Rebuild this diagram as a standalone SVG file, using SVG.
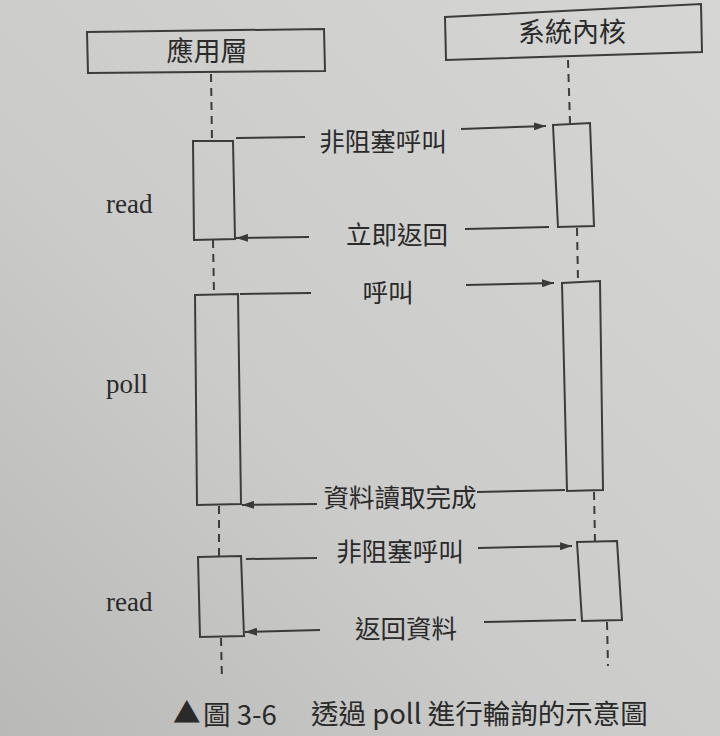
<svg xmlns="http://www.w3.org/2000/svg" width="720" height="736" viewBox="0 0 720 736">
<defs>
<linearGradient id="bg" x1="1" y1="0" x2="0" y2="1">
<stop offset="0" stop-color="#d6d6d4"/>
<stop offset="0.6" stop-color="#cbcbc9"/>
<stop offset="1" stop-color="#b9b9b7"/>
</linearGradient>
<marker id="ah" viewBox="0 0 12 8" refX="12" refY="4" markerWidth="12" markerHeight="8" markerUnits="userSpaceOnUse" orient="auto">
<path d="M0,0 L12,4 L0,8 Z" fill="#3a3a3a"/>
</marker>
<style>
.box{fill:none;stroke:#3c3c3c;stroke-width:2}
.life{stroke:#3c3c3c;stroke-width:2;stroke-dasharray:8,6;fill:none}
.ln{stroke:#3a3a3a;stroke-width:2;fill:none}
.arr{stroke:#3a3a3a;stroke-width:2;fill:none;marker-end:url(#ah)}
.lbl{font-family:"Liberation Serif","Noto Sans CJK TC",serif;font-size:27px;fill:#2a2a2a}
.hdr{font-family:"Liberation Serif","Noto Sans CJK TC",serif;font-size:27px;fill:#2a2a2a;text-anchor:middle}
.msg{font-family:"Noto Sans CJK TC",sans-serif;font-size:25.5px;fill:#2a2a2a;text-anchor:middle}
.cap{font-family:"Noto Sans CJK TC","Liberation Sans",sans-serif;font-size:27.5px;fill:#2a2a2a}
</style>
</defs>
<rect width="720" height="736" fill="url(#bg)"/>

<g id="app">
<polygon class="box" points="87,32 324,29 325,71 88,73"/>
<text class="hdr" x="207" y="61">應用層</text>
</g>
<g id="kernel">
<polygon class="box" points="445,17 701,4 702,52 446,60"/>
<text class="hdr" x="572" y="42">系統內核</text>
</g>

<g id="lifelines">
<line class="life" x1="211" y1="74" x2="212" y2="140"/>
<line class="life" x1="213" y1="240" x2="214" y2="294"/>
<line class="life" x1="219" y1="506" x2="219" y2="556"/>
<line class="life" x1="221" y1="638" x2="222" y2="680"/>
<line class="life" x1="568" y1="60" x2="570" y2="123"/>
<line class="life" x1="577" y1="228" x2="578" y2="281"/>
<line class="life" x1="594" y1="492" x2="595" y2="541"/>
<line class="life" x1="607" y1="622" x2="608" y2="666"/>
</g>

<g id="read1">
<polygon class="box" points="193,141 233,141 235,239 194,240"/>
<text class="lbl" x="106" y="213">read</text>
</g>
<g id="poll">
<polygon class="box" points="195,295 238,294 241,504 197,505"/>
<text class="lbl" x="106" y="393">poll</text>
</g>
<g id="read2">
<polygon class="box" points="198,557 241,556 244,636 200,637"/>
<text class="lbl" x="106" y="611">read</text>
</g>
<g id="k1">
<polygon class="box" points="553,125 590,123 594,226 558,227"/>
</g>
<g id="k2">
<polygon class="box" points="562,283 600,281 603,490 567,491"/>
</g>
<g id="k3">
<polygon class="box" points="577,542 617,541 622,620 582,621"/>
</g>

<g id="connectors">
<line class="ln" x1="236" y1="138" x2="305" y2="137"/>
<line class="arr" x1="461" y1="129" x2="546" y2="126"/>
<text class="msg" x="383" y="151">非阻塞呼叫</text>

<line class="ln" x1="465" y1="229" x2="549" y2="227"/>
<line class="arr" x1="309" y1="237" x2="236" y2="238"/>
<text class="msg" x="397" y="244">立即返回</text>

<line class="ln" x1="240" y1="294" x2="311" y2="293"/>
<line class="arr" x1="466" y1="285" x2="554" y2="283"/>
<text class="msg" x="388" y="302">呼叫</text>

<line class="ln" x1="477" y1="492" x2="565" y2="490"/>
<line class="arr" x1="317" y1="504" x2="242" y2="505"/>
<text class="msg" x="400" y="507">資料讀取完成</text>

<line class="ln" x1="246" y1="559" x2="317" y2="558"/>
<line class="arr" x1="478" y1="548" x2="572" y2="546"/>
<text class="msg" x="400" y="561">非阻塞呼叫</text>

<line class="ln" x1="484" y1="622" x2="576" y2="620"/>
<line class="arr" x1="320" y1="630" x2="245" y2="632"/>
<text class="msg" x="406" y="638">返回資料</text>
</g>

<g id="caption">
<text class="cap" x="173" y="723" font-size="16">▲</text>
<text class="cap" x="203" y="725">圖 3-6</text>
<text class="cap" x="311" y="724">透過 poll 進行輪詢的示意圖</text>
</g>
</svg>
